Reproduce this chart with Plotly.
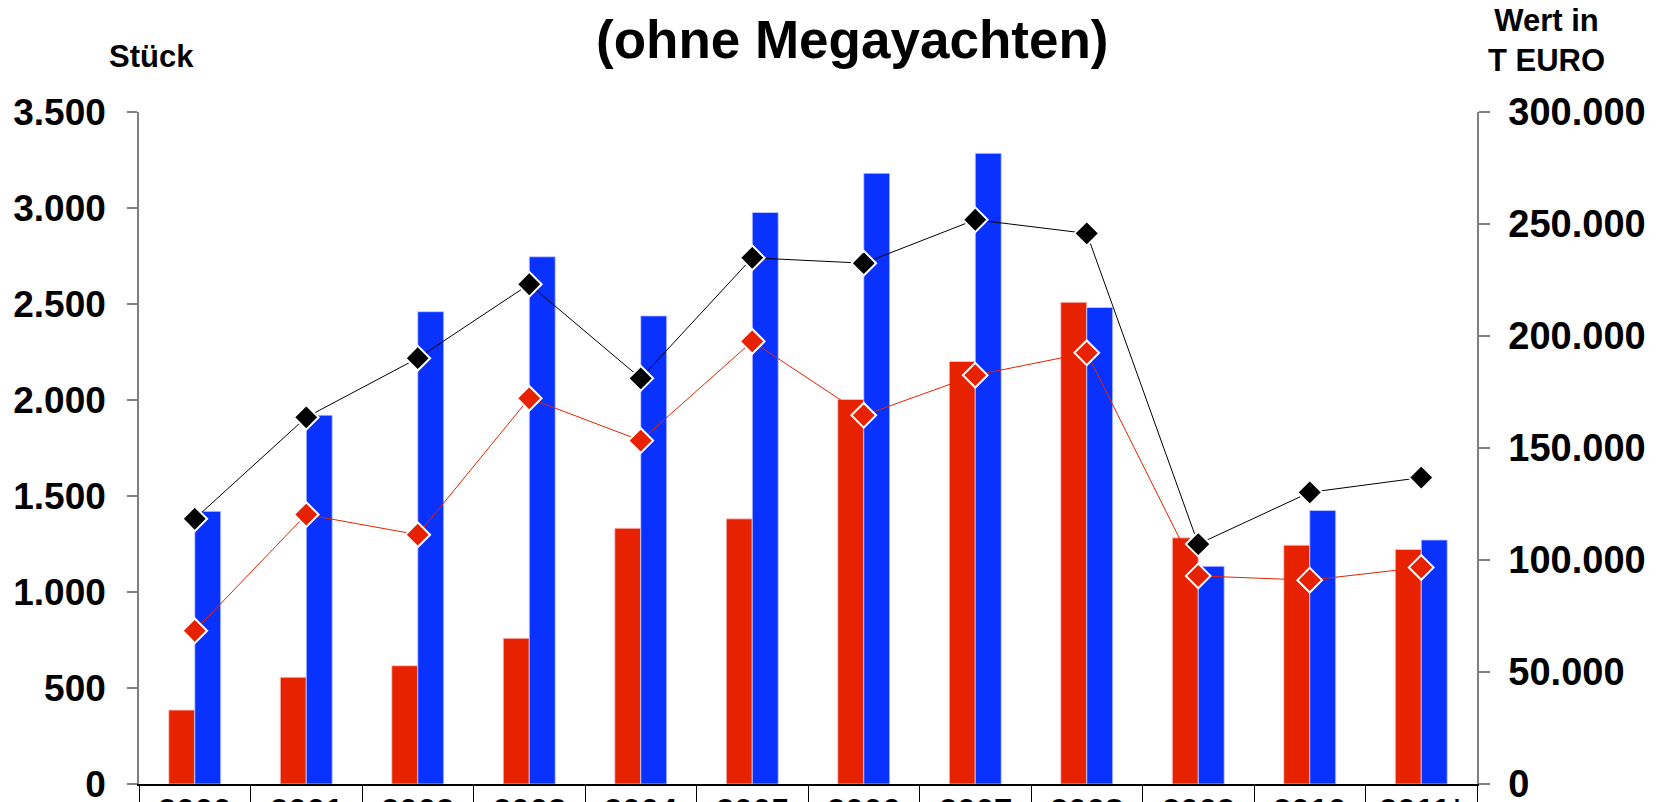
import plotly.graph_objects as go

years = ["2000", "2001", "2002", "2003", "2004", "2005", "2006", "2007", "2008", "2009", "2010", "2011*"]

# Stück (left axis) - bars
stueck_red = [385, 556, 616, 759, 1332, 1381, 2003, 2201, 2509, 1282, 1244, 1222]
stueck_blue = [1420, 1921, 2460, 2746, 2438, 2977, 3181, 3285, 2482, 1134, 1425, 1271]

# Wert in T EURO (right axis) - lines
wert_black = [118400, 163700, 190100, 223100, 181100, 234900, 232500, 251900, 245800, 107100, 130200, 136800]
wert_red = [68400, 120300, 111300, 172200, 153300, 197600, 164600, 182500, 192500, 92900, 91000, 96700]

RED = "#E62200"
BLUE = "#0A32FF"
FONT = "Liberation Sans, Arial, sans-serif"

fig = go.Figure()
fig.add_trace(go.Bar(x=years, y=stueck_red, marker=dict(color=RED, line=dict(color="rgba(255,200,200,0.8)", width=1)),
                     yaxis="y", name="Stück rot"))
fig.add_trace(go.Bar(x=years, y=stueck_blue, marker=dict(color=BLUE, line=dict(color="rgba(200,210,255,0.8)", width=1)),
                     yaxis="y", name="Stück blau"))
fig.add_trace(go.Scatter(x=years, y=wert_black, yaxis="y2", mode="lines+markers",
                         line=dict(color="#000000", width=1),
                         marker=dict(symbol="diamond", size=19, color="#000000", line=dict(color="white", width=2)),
                         name="Wert schwarz"))
fig.add_trace(go.Scatter(x=years, y=wert_red, yaxis="y2", mode="lines+markers",
                         line=dict(color=RED, width=1),
                         marker=dict(symbol="diamond", size=19, color=RED, line=dict(color="white", width=2)),
                         name="Wert rot"))

annotations = [
    dict(text="Stück", x=0.009, y=1.083, xref="paper", yref="paper", showarrow=False,
         xanchor="center", yanchor="middle", font=dict(family=FONT, size=31, color="black", weight="bold")),
    dict(text="Wert in<br>T EURO", x=1.052, y=1.106, xref="paper", yref="paper", showarrow=False,
         xanchor="center", yanchor="middle", align="center",
         font=dict(family=FONT, size=31, color="black", weight="bold")),
]
for i, yr in enumerate(years):
    annotations.append(dict(text=yr, x=i, y=0, xref="x", yref="paper", yanchor="top", yshift=-6,
                            showarrow=False, font=dict(family=FONT, size=33, color="black", weight="bold")))

fig.update_layout(
    template="none",
    width=1658, height=802,
    margin=dict(l=139, r=181, t=112, b=18, autoexpand=False),
    paper_bgcolor="white", plot_bgcolor="white",
    separators=",.",
    showlegend=False,
    barmode="group", bargap=0.534, bargroupgap=0,
    title=dict(text="(ohne Megayachten)", x=0.514, xanchor="center", xref="container",
               y=1 - 39 / 802, yanchor="middle", yref="container",
               font=dict(family=FONT, size=53, color="black", weight="bold")),
    xaxis=dict(type="category", range=[-0.5, len(years) - 0.5], autorange=False, automargin=False,
               showgrid=False, showline=True, linecolor="black", linewidth=1.5,
               ticks="outside", tickson="boundaries", ticklen=25, tickcolor="black", tickwidth=1,
               showticklabels=False, zeroline=False),
    yaxis=dict(range=[0, 3500], dtick=500, tickformat=",d", showgrid=False, zeroline=False,
               automargin=False, ticklabeloverflow="allow",
               showline=True, linecolor="#808080", linewidth=1.5,
               ticks="outside", ticklen=10, tickcolor="#808080", tickwidth=1.5,
               ticklabelstandoff=14,
               tickfont=dict(family=FONT, size=37, color="black", weight="bold")),
    yaxis2=dict(range=[0, 300000], dtick=50000, tickformat=",d", overlaying="y", side="right",
                automargin=False, ticklabeloverflow="allow",
                showgrid=False, zeroline=False, showline=True, linecolor="#808080", linewidth=1.5,
                ticks="outside", ticklen=11, tickcolor="#808080", tickwidth=1.5,
                ticklabelstandoff=11,
                tickfont=dict(family=FONT, size=38, color="black", weight="bold")),
    annotations=annotations,
)

fig.write_html("out.html", config={"displayModeBar": False},
               post_script="document.body.style.margin='0';document.body.style.overflow='hidden';")
